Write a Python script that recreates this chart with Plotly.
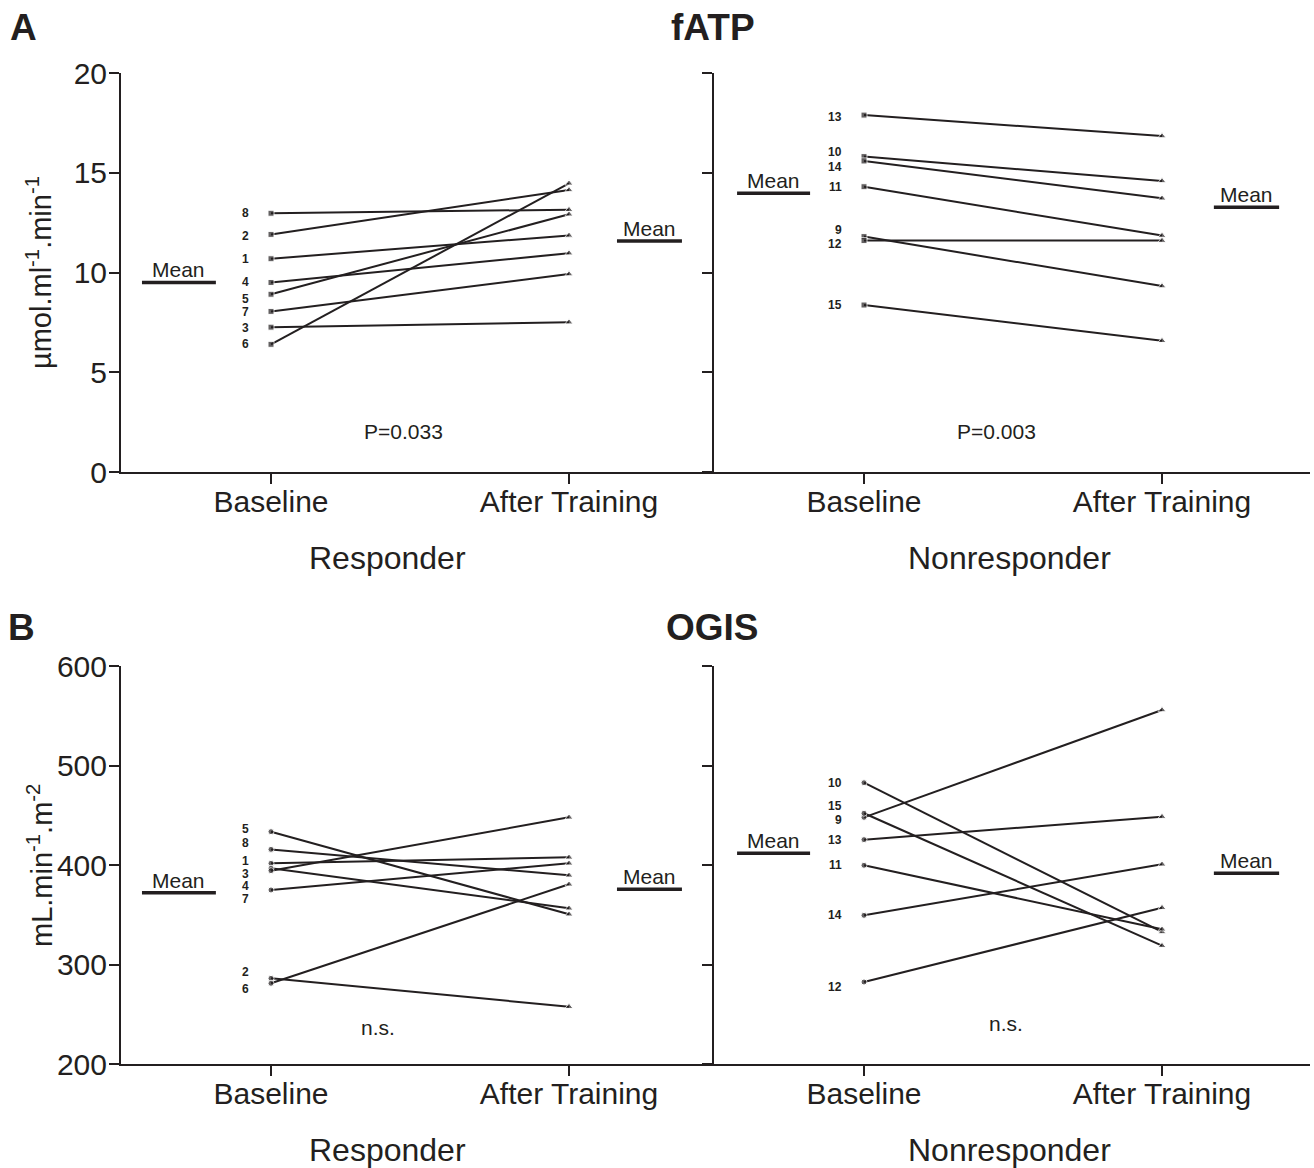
import plotly.graph_objects as go

# ---------------- data ----------------
resp_ids = ["1", "2", "3", "4", "5", "6", "7", "8"]
non_ids = ["9", "10", "11", "12", "13", "14", "15"]
x_labels = ["Baseline", "After Training"]

fatp_resp_base = [10.69, 11.91, 7.26, 9.50, 8.91, 6.40, 8.05, 12.97]
fatp_resp_after = [11.86, 14.14, 7.51, 10.97, 12.92, 14.47, 9.92, 13.15]
fatp_resp_mean = [9.50, 11.58]

fatp_non_base = [11.80, 15.81, 14.30, 11.60, 17.89, 15.59, 8.37]
fatp_non_after = [9.32, 14.59, 11.85, 11.60, 16.84, 13.72, 6.58]
fatp_non_mean = [13.97, 13.27]

ogis_resp_base = [401.7, 286.1, 396.7, 394.3, 433.5, 281.1, 374.9, 415.7]
ogis_resp_after = [407.7, 257.6, 356.5, 447.9, 350.5, 380.6, 401.7, 389.6]
ogis_resp_mean = [372.2, 375.6]

ogis_non_base = [447.9, 482.7, 399.7, 282.4, 425.5, 349.4, 452.0]
ogis_non_after = [555.8, 332.7, 335.4, 357.1, 448.6, 400.7, 318.9]
ogis_non_mean = [411.7, 391.6]

# label nudges (screen px, positive = up) to avoid overlap, as in the original
nudge_fatp_resp = {"2": -2, "5": -5, "7": -1, "3": -1}
nudge_fatp_non = {"13": -2, "10": 5, "14": -6, "9": 7, "12": -3}
nudge_ogis_resp = {"5": 3, "8": 6, "1": 2, "3": -6, "4": -15, "7": -9, "2": 6, "6": -6}
nudge_ogis_non = {"15": 7, "9": -3, "12": -5}

# ---------------- layout constants ----------------
W, H = 1314, 1168
FONT = "Arial, Liberation Sans, Helvetica, sans-serif"
BLACK = "#231f20"


def px(x):
    return x / W


def py(y):
    return 1 - y / H


XL = [px(121), px(714)]
XR = [px(714), px(1310)]
YA = [py(472), py(73)]
YB = [py(1064), py(666)]
RANGE_L = [0.4966, 2.4866]
RANGE_R = [0.4966, 2.4966]
MEAN_L = [(0.567, 0.815), (2.161, 2.379)]
MEAN_R = [(0.574, 0.819), (2.174, 2.393)]

fig = go.Figure()
annotations = []


def add_panel(xa, ya, ids, base, after, mean, base_symbol, nudges, mean_x):
    xref = "x" if xa == 1 else f"x{xa}"
    yref = "y" if ya == 1 else f"y{ya}"
    for sid, b, a in zip(ids, base, after):
        fig.add_trace(go.Scatter(
            x=[1, 2], y=[b, a], mode="lines+markers",
            line=dict(color=BLACK, width=2),
            marker=dict(symbol=[base_symbol, "triangle-up"], size=[6, 7], color=BLACK),
            xaxis=xref, yaxis=yref, showlegend=False, cliponaxis=False,
            hoverinfo="skip"))
        annotations.append(dict(
            x=1, y=b, xref=xref, yref=yref, text=f"<b>{sid}</b>", showarrow=False,
            xanchor="right", yanchor="middle", xshift=-20, yshift=nudges.get(sid, 0),
            font=dict(family=FONT, size=12, color=BLACK)))
    for (x0, x1), m in zip(mean_x, mean):
        fig.add_trace(go.Scatter(
            x=[x0, x1], y=[m, m], mode="lines",
            line=dict(color=BLACK, width=3.5),
            xaxis=xref, yaxis=yref, showlegend=False, cliponaxis=False,
            hoverinfo="skip"))
        annotations.append(dict(
            x=(x0 + x1) / 2, y=m, xref=xref, yref=yref, text="Mean",
            showarrow=False, xanchor="center", yanchor="bottom", yshift=-1,
            font=dict(family=FONT, size=21, color=BLACK)))


add_panel(1, 1, resp_ids, fatp_resp_base, fatp_resp_after, fatp_resp_mean,
          "square", nudge_fatp_resp, MEAN_L)
add_panel(2, 2, non_ids, fatp_non_base, fatp_non_after, fatp_non_mean,
          "square", nudge_fatp_non, MEAN_R)
add_panel(3, 3, resp_ids, ogis_resp_base, ogis_resp_after, ogis_resp_mean,
          "circle", nudge_ogis_resp, MEAN_L)
add_panel(4, 4, non_ids, ogis_non_base, ogis_non_after, ogis_non_mean,
          "circle", nudge_ogis_non, MEAN_R)

axis_common = dict(showline=True, linecolor=BLACK, linewidth=2, ticks="outside",
                   tickcolor=BLACK, tickwidth=2, ticklen=10, showgrid=False,
                   zeroline=False, automargin=False,
                   tickfont=dict(family=FONT, size=30, color=BLACK))

xcommon = dict(axis_common, tickvals=[1, 2], ticktext=x_labels, ticklabelstandoff=-8)
ycommon = dict(axis_common, ticklabelstandoff=-4)

fig.update_layout(
    width=W, height=H, margin=dict(l=0, r=0, t=0, b=0, autoexpand=False),
    plot_bgcolor="white", paper_bgcolor="white",
    xaxis=dict(xcommon, domain=XL, range=RANGE_L, anchor="y"),
    xaxis2=dict(xcommon, domain=XR, range=RANGE_R, anchor="y2"),
    xaxis3=dict(xcommon, domain=XL, range=RANGE_L, anchor="y3"),
    xaxis4=dict(xcommon, domain=XR, range=RANGE_R, anchor="y4"),
    yaxis=dict(ycommon, domain=YA, range=[0, 20], tickvals=[0, 5, 10, 15, 20], anchor="x"),
    yaxis2=dict(ycommon, domain=YA, range=[0, 20], tickvals=[0, 5, 10, 15, 20],
                showticklabels=False, anchor="x2"),
    yaxis3=dict(ycommon, domain=YB, range=[200, 600], tickvals=[200, 300, 400, 500, 600], anchor="x3"),
    yaxis4=dict(ycommon, domain=YB, range=[200, 600], tickvals=[200, 300, 400, 500, 600],
                showticklabels=False, anchor="x4"),
)

# statistics text
stat_font = dict(family=FONT, size=21, color=BLACK)
annotations += [
    dict(x=1.443, y=2.05, xref="x", yref="y", text="P=0.033", showarrow=False,
         xanchor="center", yanchor="middle", font=stat_font),
    dict(x=1.446, y=2.05, xref="x2", yref="y2", text="P=0.003", showarrow=False,
         xanchor="center", yanchor="middle", font=stat_font),
    dict(x=1.36, y=237, xref="x3", yref="y3", text="n.s.", showarrow=False,
         xanchor="center", yanchor="middle", font=stat_font),
    dict(x=1.477, y=241, xref="x4", yref="y4", text="n.s.", showarrow=False,
         xanchor="center", yanchor="middle", font=stat_font),
]

# group titles under axes
for xc, yc, t in [(387, 558, "Responder"), (1009, 558, "Nonresponder"),
                  (387, 1150, "Responder"), (1009, 1150, "Nonresponder")]:
    annotations.append(dict(x=px(xc), y=py(yc), xref="paper", yref="paper", text=t,
                            xanchor="center", yanchor="middle", showarrow=False,
                            font=dict(family=FONT, size=32, color=BLACK)))

# panel titles and letters
for xc, yc, t, anchor in [(713, 27, "<b>fATP</b>", "center"), (712, 627, "<b>OGIS</b>", "center"),
                          (8, 27, "<b>A</b>", "left"), (6, 627, "<b>B</b>", "left")]:
    annotations.append(dict(x=px(xc), y=py(yc), xref="paper", yref="paper", text=t,
                            xanchor=anchor, yanchor="middle", showarrow=False,
                            font=dict(family=FONT, size=37, color=BLACK)))

# y-axis titles
annotations += [
    dict(x=px(39), y=py(273), xref="paper", yref="paper", textangle=-90, showarrow=False,
         xanchor="center", yanchor="middle",
         text="µmol.ml<sup>-1</sup>.min<sup>-1</sup>", font=dict(family=FONT, size=29, color=BLACK)),
    dict(x=px(40), y=py(866), xref="paper", yref="paper", textangle=-90, showarrow=False,
         xanchor="center", yanchor="middle",
         text="mL.min<sup>-1</sup>.m<sup>-2</sup>", font=dict(family=FONT, size=29, color=BLACK)),
]

fig.update_layout(annotations=annotations)
fig.write_html("out.html", config={"displayModeBar": False},
               post_script="document.body.style.margin='0px';")
